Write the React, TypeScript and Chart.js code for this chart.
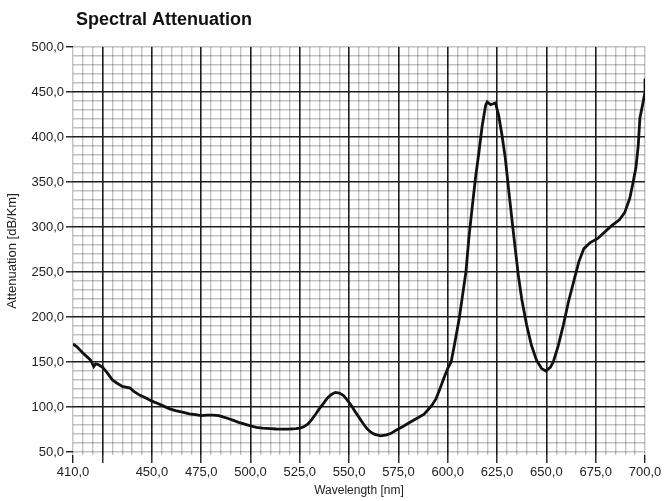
import React, { useEffect, useRef } from "react";
import { Chart, registerables } from "chart.js";

Chart.register(...registerables);

const chartTitle = "Spectral Attenuation";
const xAxisTitle = "Wavelength [nm]";
const yAxisTitle = "Attenuation [dB/Km]";

const wavelengths = [
  410, 412, 415, 417, 419, 420.5, 421.5, 423, 425, 427, 430, 432, 435, 439, 441, 444, 447, 450,
  453, 456, 459, 462, 466, 469, 472, 475, 478, 481, 484, 486, 489, 491, 494, 497, 500, 503, 506,
  510, 513, 517, 520, 523, 525, 527, 529, 531, 533, 535, 537, 539, 541, 543, 545, 547, 549, 551,
  553, 555, 557, 559, 561, 563, 566, 569, 571, 574, 577, 580, 584, 588, 590, 592, 594, 596, 598,
  600, 601.7, 603.3, 605.8, 607.5, 609.2, 610.8, 612.5, 614.2, 615.8, 617.5, 619.2, 620, 621.7,
  623, 624.2, 625.8, 627.5, 629.2, 630.8, 632.5, 634.2, 635.8, 637.5, 640, 642.5, 645, 647.5,
  649.7, 652, 653.5, 656, 658.6, 661.2, 663.8, 666.4, 669, 672.4, 675.9, 679.3, 682.8, 687, 689.7,
  692.3, 694, 695.4, 696.6, 697.4, 698.8, 700, 700,
];

const attenuation = [
  170, 167, 160, 156, 152, 145, 148, 147, 144, 139, 130, 127, 123, 121, 117, 113, 110, 106.5,
  104, 101, 98, 96, 94, 92.5, 91.5, 90.5, 91, 91, 90.5, 89, 87, 85.5, 83, 81, 79, 77.5, 76.5,
  76, 75.6, 75.5, 75.6, 76, 76.5, 78, 81, 86, 92, 98.5, 104, 110, 114, 116.3, 115.5, 113, 108, 102,
  95, 88.5, 82, 76, 72, 69.5, 68, 69, 70.5, 74.5, 78, 82, 87, 92, 97, 102, 109, 120, 132,
  143, 150, 168, 198, 224, 250, 290, 324, 357, 383, 413, 435, 439, 436,
  437, 438, 424, 402, 376, 343, 309, 276, 246, 220, 191, 168, 152, 143,
  140, 144, 150, 168, 191, 217, 239, 261, 276, 283, 287, 294, 301, 308, 316,
  332, 350, 366, 391, 421, 436, 450, 465,
];

const xTickValues = [410, 425, 450, 475, 500, 525, 550, 575, 600, 625, 650, 675, 700];
const xLabelValues = [410, 450, 475, 500, 525, 550, 575, 600, 625, 650, 675, 700];
const yLabelValues = [50, 100, 150, 200, 250, 300, 350, 400, 450, 500];

const DARK = "#1e1e1e";
const LIGHT = "rgba(0,0,0,0.24)";
const FONT = "'Liberation Sans', Arial, sans-serif";

const fmt = (v: number) => v.toFixed(1).replace(".", ",");

export default function App() {
  const ref = useRef<HTMLCanvasElement | null>(null);

  useEffect(() => {
    if (!ref.current) return;

    const titlePlugin = {
      id: "leftTitle",
      afterDraw(chart: any) {
        const ctx = chart.ctx;
        ctx.save();
        ctx.font = `bold 18px ${FONT}`;
        ctx.fillStyle = "#111";
        ctx.textAlign = "left";
        ctx.textBaseline = "alphabetic";
        ctx.fillText(chartTitle, 76, 25);
        ctx.restore();
      },
    };

    const points = wavelengths.map((x, i) => ({ x, y: attenuation[i] }));

    const chart = new Chart(ref.current, {
      type: "line",
      data: {
        datasets: [
          {
            data: points,
            borderColor: "#111",
            borderWidth: 2.8,
            pointRadius: 0,
            tension: 0,
            fill: false,
          },
        ],
      },
      options: {
        animation: false,
        responsive: false,
        maintainAspectRatio: false,
        layout: { padding: { top: 47, right: 19, bottom: 0, left: 0 } },
        plugins: {
          legend: { display: false },
          tooltip: { enabled: false },
          title: { display: false },
        },
        scales: {
          x: {
            type: "linear",
            min: 410,
            max: 700,
            afterBuildTicks: (scale: any) => {
              const t = [];
              for (let v = 410; v <= 700; v += 5) t.push({ value: v });
              scale.ticks = t;
            },
            afterFit: (scale: any) => {
              scale.height = 46;
            },
            border: { display: false },
            grid: {
              drawOnChartArea: true,
              color: (c: any) => {
                const v = c.tick ? c.tick.value : 0;
                return v % 25 === 0 && v > 410 && v < 700 ? DARK : LIGHT;
              },
              lineWidth: (c: any) => {
                const v = c.tick ? c.tick.value : 0;
                return v % 25 === 0 && v > 410 && v < 700 ? 1.6 : 1.4;
              },
              tickColor: (c: any) => {
                const v = c.tick ? c.tick.value : 0;
                return xTickValues.includes(v) ? DARK : "rgba(0,0,0,0)";
              },
              tickLength: 8,
              tickWidth: 1.4,
            },
            ticks: {
              autoSkip: false,
              maxRotation: 0,
              minRotation: 0,
              padding: 2,
              color: "#222",
              font: { family: FONT, size: 13 },
              callback: (v: any) => (xLabelValues.includes(Number(v)) ? fmt(Number(v)) : ""),
            },
            title: {
              display: true,
              text: xAxisTitle,
              color: "#222",
              font: { family: FONT, size: 12 },
              padding: { top: 0, bottom: 3 },
            },
          },
          y: {
            type: "linear",
            min: 46.7,
            max: 500,
            afterBuildTicks: (scale: any) => {
              const t = [];
              for (let v = 50; v <= 500; v += 10) t.push({ value: v });
              scale.ticks = t;
            },
            afterFit: (scale: any) => {
              scale.width = 73;
            },
            border: { display: false },
            grid: {
              color: (c: any) => {
                const v = c.tick ? c.tick.value : 0;
                return v % 50 === 0 && v > 50 && v < 500 ? DARK : LIGHT;
              },
              lineWidth: (c: any) => {
                const v = c.tick ? c.tick.value : 0;
                return v % 50 === 0 && v > 50 && v < 500 ? 1.6 : 1.4;
              },
              tickColor: (c: any) => {
                const v = c.tick ? c.tick.value : 0;
                return yLabelValues.includes(v) ? DARK : "rgba(0,0,0,0)";
              },
              tickLength: 7,
              tickWidth: 1.4,
            },
            ticks: {
              autoSkip: false,
              padding: 2,
              color: "#222",
              font: { family: FONT, size: 13 },
              callback: (v: any) => (yLabelValues.includes(Number(v)) ? fmt(Number(v)) : ""),
            },
            title: {
              display: true,
              text: yAxisTitle,
              color: "#222",
              font: { family: FONT, size: 13 },
              padding: { top: 5, bottom: 1 },
            },
          },
        },
      },
      plugins: [titlePlugin],
    });

    return () => chart.destroy();
  }, []);

  return (
    <div style={{ position: "fixed", left: 0, top: 0, width: 664, height: 501, background: "#fff" }}>
      <canvas ref={ref} width={664} height={501} style={{ width: 664, height: 501, display: "block" }} />
    </div>
  );
}
